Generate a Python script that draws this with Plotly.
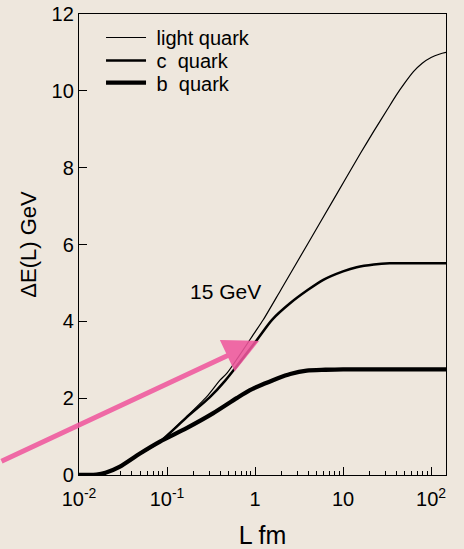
import plotly.graph_objects as go

# Energy loss Delta E(L) versus path length L for a 15 GeV parton
L_light = [0.01, 0.0126, 0.0158, 0.02, 0.0292, 0.0493, 0.0832, 0.167, 0.283, 0.40,
           0.48, 1.0, 1.24, 2.0, 3.98, 7.94, 15.85, 22.4, 31.6, 39.8, 50.1,
           63.1, 79.4, 100, 126, 148]
E_light = [0.0, 0.0, 0.01, 0.06, 0.22, 0.56, 0.87, 1.52, 2.04, 2.47,
           2.65, 3.72, 4.04, 4.85, 6.02, 7.20, 8.38, 8.95, 9.50, 9.87, 10.20,
           10.50, 10.72, 10.87, 10.96, 11.0]

L_c = [0.01, 0.0126, 0.0158, 0.02, 0.0292, 0.0493, 0.0832, 0.167, 0.305, 0.456,
       1.0, 1.56, 2.5, 4.0, 5.97, 10.0, 14.3, 22.4, 33.9, 148]
E_c = [0.0, 0.0, 0.01, 0.06, 0.22, 0.56, 0.87, 1.50, 2.02, 2.45,
       3.45, 4.04, 4.47, 4.82, 5.08, 5.30, 5.41, 5.48, 5.51, 5.51]

L_b = [0.01, 0.0126, 0.0158, 0.02, 0.0292, 0.0493, 0.0832, 0.167, 0.336, 0.619,
       0.877, 1.29, 1.82, 2.51, 3.87, 6.3, 10.0, 148]
E_b = [0.0, 0.0, 0.01, 0.06, 0.22, 0.56, 0.87, 1.22, 1.61, 2.0,
       2.21, 2.38, 2.52, 2.63, 2.72, 2.74, 2.75, 2.75]

x_tickvals = [0.01, 0.1, 1, 10, 100]
x_ticktext = ["10<sup>-2</sup>", "10<sup>-1</sup>", "1", "10", "10<sup>2</sup>"]
x_minor = [m * d for d in (0.01, 0.1, 1, 10) for m in range(2, 10)]
y_tickvals = [0, 2, 4, 6, 8, 10, 12]

FONT = "Liberation Sans, Arial, Helvetica, sans-serif"
BG = "#eee7dd"

series = [
    (" light quark", L_light, E_light, 1.2, "legend"),
    (" c  quark", L_c, E_c, 2.5, "legend2"),
    (" b  quark", L_b, E_b, 4.3, "legend3"),
]

fig = go.Figure()
for name, xs, ys, w, leg in series:
    fig.add_trace(go.Scatter(x=xs, y=ys, mode="lines", name=name, legend=leg,
                             line=dict(color="black", width=w, shape="spline", smoothing=0.7)))

# label and pointer for the parton energy
fig.add_annotation(x=-0.33, y=4.77, xref="x", yref="y", text="15 GeV", showarrow=False,
                   font=dict(size=21, color="black", family=FONT))
fig.add_annotation(x=0.045, y=3.49, xref="x", yref="y", text="", showarrow=True,
                   ax=-268, ay=121, arrowcolor="rgba(240,88,158,0.88)",
                   arrowwidth=5, arrowhead=2, arrowsize=1.4)

legend_style = dict(x=0.06, xanchor="left", yanchor="middle",
                    bgcolor="rgba(0,0,0,0)", font=dict(size=20, family=FONT),
                    itemwidth=40)

fig.update_layout(
    width=464, height=549,
    margin=dict(l=79, r=18, t=14, b=74),
    paper_bgcolor=BG, plot_bgcolor=BG,
    font=dict(family=FONT, color="black", size=20),
    showlegend=True,
    legend=dict(y=0.949, **legend_style),
    legend2=dict(y=0.899, **legend_style),
    legend3=dict(y=0.851, **legend_style),
    xaxis=dict(type="log", range=[-2, 2.17], automargin=False,
               tickmode="array", tickvals=x_tickvals, ticktext=x_ticktext,
               ticks="inside", ticklen=8, tickwidth=1.2, tickcolor="black",
               minor=dict(tickmode="array", tickvals=x_minor, ticks="inside",
                          ticklen=4, tickwidth=1.2, tickcolor="black", showgrid=False),
               showline=True, linecolor="black", linewidth=1.3, mirror=True,
               showgrid=False, zeroline=False,
               tickfont=dict(size=20), ticklabelstandoff=6,
               title=dict(text="L fm", font=dict(size=25), standoff=24)),
    yaxis=dict(range=[0, 12], automargin=False, tickmode="array", tickvals=y_tickvals,
               ticks="inside", ticklen=8, tickwidth=1.2, tickcolor="black",
               showline=True, linecolor="black", linewidth=1.3, mirror=True,
               showgrid=False, zeroline=False,
               tickfont=dict(size=20),
               title=dict(text="ΔE(L) GeV", font=dict(size=22), standoff=8)),
)

fig.write_html("out.html")
